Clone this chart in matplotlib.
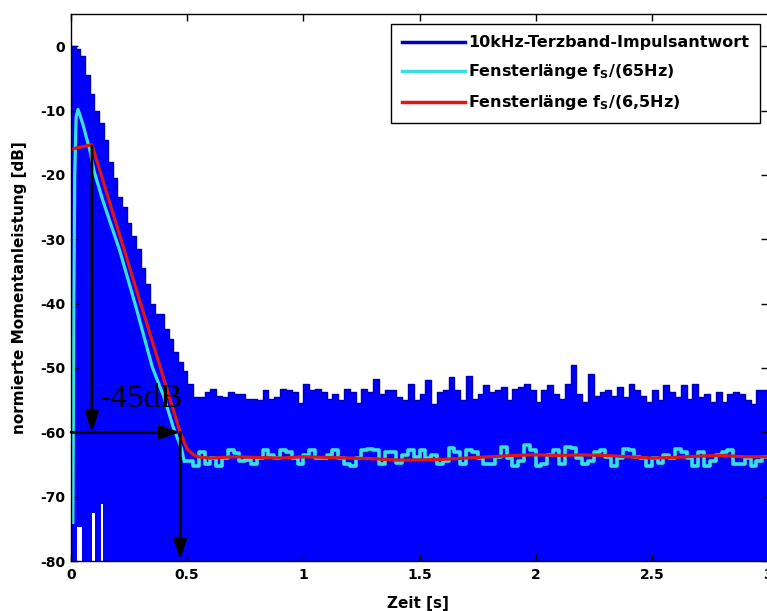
import numpy as np
import matplotlib
matplotlib.use("Agg")
import matplotlib.pyplot as plt
from matplotlib.lines import Line2D

plt.rcParams['font.family'] = ['DejaVu Sans']
plt.rcParams['font.weight'] = 'bold'
plt.rcParams['axes.labelweight'] = 'bold'
plt.rcParams['axes.unicode_minus'] = False
plt.rcParams['mathtext.fontset'] = 'dejavusans'

# impulse response envelope (top of the blue area), step starts in s
decay_t = np.round(np.arange(0.0, 0.49, 0.02), 3)
decay_db = [0.0, -0.5, -1.5, -4.5, -7.5, -10.0, -12.0, -14.5, -18.0, -20.5,
            -23.5, -25.0, -27.5, -29.5, -31.5, -34.5, -37.0, -40.0, -41.6,
            -41.6, -44.0, -45.5, -47.5, -49.0, -50.5]
floor_t = np.round(np.arange(0.5, 3.0, 0.025), 3)
floor_db = [-52.5, -54.5, -54.5, -53.7, -53.2, -54.3, -54.5, -53.7, -54.0, -54.0,
            -54.8, -54.8, -55.0, -53.5, -54.8, -54.5, -53.2, -53.5, -53.7, -55.5,
            -52.5, -53.5, -53.2, -53.7, -54.8, -54.0, -55.0, -53.2, -53.7, -55.5,
            -53.2, -53.8, -51.7, -54.0, -53.5, -53.5, -54.5, -55.0, -52.5, -55.0,
            -54.0, -51.9, -55.6, -53.8, -53.5, -51.4, -53.5, -55.0, -51.2, -54.8,
            -54.0, -52.7, -53.8, -53.5, -53.0, -55.0, -53.2, -53.0, -52.5, -53.5,
            -55.3, -53.5, -52.7, -54.0, -54.8, -52.5, -49.6, -54.0, -55.3, -50.9,
            -54.3, -53.8, -53.5, -54.3, -53.0, -54.5, -52.5, -53.5, -54.3, -55.3,
            -53.5, -55.0, -52.7, -53.8, -54.5, -52.7, -54.8, -52.5, -54.5, -54.0,
            -55.3, -53.8, -55.3, -54.0, -53.8, -54.0, -55.0, -55.6, -53.5, -53.5]

# places near the start where the signal stays above -80 dB
gap_t0 = [0.026, 0.090, 0.129]
gap_t1 = [0.047, 0.103, 0.137]
gap_top = [-74.7, -72.6, -71.2]

# window length fs/(65Hz)
cyan_start_t = [0.008, 0.012, 0.016, 0.022, 0.03, 0.05, 0.08, 0.10, 0.137,
                0.21, 0.28, 0.35, 0.40, 0.44, 0.475, 0.4875]
cyan_start_db = [-74.0, -40.0, -20.0, -11.0, -9.8, -12.0, -16.0, -19.5, -24.0,
                 -31.8, -40.6, -49.9, -54.5, -59.2, -62.5, -64.5]
cyan_floor_db = [-64.5, -65.2, -63.0, -64.9, -64.0, -65.2, -64.0, -62.8, -63.2, -64.5,
                 -64.3, -64.9, -64.0, -62.8, -63.5, -64.0, -62.8, -63.0, -64.0, -64.9,
                 -63.5, -62.8, -64.0, -64.0, -63.5, -62.8, -64.0, -65.0, -65.2, -64.0,
                 -62.8, -62.6, -62.8, -64.9, -63.0, -63.0, -64.7, -63.5, -62.8, -63.8,
                 -62.8, -64.0, -63.5, -64.9, -64.5, -62.5, -63.0, -64.9, -62.8, -63.0,
                 -64.0, -64.9, -64.9, -63.8, -62.3, -64.0, -65.2, -64.5, -62.0, -62.8,
                 -65.2, -65.0, -63.5, -62.8, -65.0, -62.3, -62.5, -64.0, -64.9, -64.5,
                 -63.0, -62.8, -63.8, -65.2, -64.0, -62.6, -62.8, -63.8, -64.0, -65.2,
                 -64.0, -64.7, -63.5, -64.0, -62.6, -63.0, -64.0, -65.2, -63.0, -65.2,
                 -64.5, -63.5, -63.0, -62.8, -64.9, -64.9, -64.0, -65.2, -64.5, -63.8]

# window length fs/(6,5Hz)
red_t = [0.0, 0.09, 0.47, 0.50, 0.53, 0.56, 0.6, 0.7, 0.8, 0.9, 1.0, 1.1, 1.2,
         1.3, 1.4, 1.5, 1.6, 1.7, 1.8, 1.9, 2.0, 2.1, 2.2, 2.3, 2.4, 2.5, 2.6,
         2.7, 2.8, 2.9, 3.0]
red_db = [-16.0, -15.3, -60.0, -62.6, -63.6, -63.9, -64.0, -63.8, -63.9, -64.0,
          -63.8, -63.9, -64.0, -64.1, -64.3, -64.3, -64.2, -64.0, -63.8, -63.6,
          -63.5, -63.6, -63.5, -63.6, -63.8, -64.0, -63.9, -63.7, -63.6, -63.8, -63.8]

# -45 dB reading
t_start, t_end = 0.09, 0.47
db_start, db_end, db_bottom = -15.5, -60.0, -80.0

labels = ['10kHz-Terzband-Impulsantwort',
          r'Fensterlänge f$_\mathbf{S}$/(65Hz)',
          r'Fensterlänge f$_\mathbf{S}$/(6,5Hz)']

blue_t = np.concatenate([decay_t, floor_t, [3.0]])
blue_db = np.concatenate([decay_db, floor_db, [floor_db[-1]]])
cyan_floor_t = np.concatenate([floor_t, [3.0]])
cyan_floor_v = np.concatenate([cyan_floor_db, [cyan_floor_db[-1]]])

fig = plt.figure(figsize=(7.67, 6.11), dpi=100)
ax = fig.add_axes([0.0926, 0.0818, 0.9087, 0.8952])

ax.fill_between(blue_t, blue_db, -80, step='post', color='#0000FF', lw=0)
ax.step(blue_t, blue_db, where='post', color='#0000B0', lw=1.0)
for a, b, top in zip(gap_t0, gap_t1, gap_top):
    ax.bar(a, top + 80, width=b - a, bottom=-80, align='edge', color='white', lw=0)

cyan = '#38E0E0'
ax.plot(cyan_start_t, cyan_start_db, color=cyan, lw=2.3)
ax.step(cyan_floor_t, cyan_floor_v, where='post', color=cyan, lw=2.6)
ax.plot(red_t, red_db, color='#E01515', lw=2.3)

arrow = dict(arrowstyle='-|>,head_length=0.6,head_width=0.2', color='black',
             lw=2.0, mutation_scale=20, shrinkA=0, shrinkB=0)
ax.annotate('', xy=(t_start, db_end), xytext=(t_start, db_start), arrowprops=arrow)
ax.annotate('', xy=(t_end, db_end), xytext=(0.0, db_end), arrowprops=arrow)
ax.annotate('', xy=(t_end, db_bottom + 0.2), xytext=(t_end, db_end), arrowprops=arrow)
ax.text(0.125, -56.1, '-45dB', family='Liberation Serif', fontweight='normal',
        fontsize=24, ha='left', va='baseline')

ax.set_xlim(0, 3)
ax.set_ylim(-80, 5)
ax.set_xticks([0, 0.5, 1, 1.5, 2, 2.5, 3])
ax.set_xticklabels(['0', '0.5', '1', '1.5', '2', '2.5', '3'])
ax.set_yticks(np.arange(-80, 1, 10))
ax.tick_params(direction='in', top=True, right=True, length=5, width=1,
               labelsize=10)
ax.tick_params(axis='x', pad=5)
ax.tick_params(axis='y', pad=4)
for s in ax.spines.values():
    s.set_linewidth(1.0)

ax.set_xlabel('Zeit [s]', fontsize=11)
ax.set_ylabel('normierte Momentanleistung [dB]', fontsize=11)
ax.xaxis.set_label_coords(0.498, -0.064)
ax.yaxis.set_label_coords(-0.063, 0.5)

handles = [Line2D([], [], color='#0000C0', lw=2.5),
           Line2D([], [], color=cyan, lw=2.5),
           Line2D([], [], color='#E01515', lw=2.5)]
leg = ax.legend(handles, labels, loc='upper right', bbox_to_anchor=(0.9885, 0.9817),
                borderaxespad=0, fancybox=False, framealpha=1, edgecolor='black',
                fontsize=11.5, handlelength=3.9, handletextpad=0.2, borderpad=0.7,
                labelspacing=0.75)
leg.get_frame().set_linewidth(1.0)

fig.savefig('out.png', dpi=100)
